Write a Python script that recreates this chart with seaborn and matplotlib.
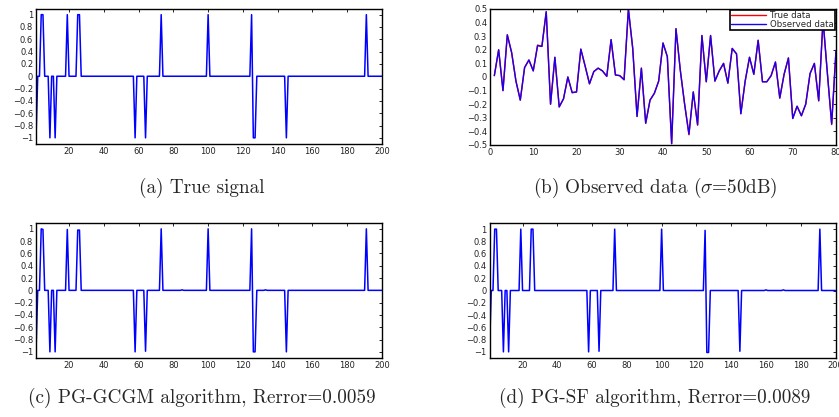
import numpy as np
import pandas as pd
import matplotlib
matplotlib.use("Agg")
import matplotlib.pyplot as plt
import seaborn as sns

# ---------------- data ----------------
n_samples = 200
sample_index = list(range(1, n_samples + 1))

# true sparse signal: spike positions and amplitudes
true_pos = [1, 4, 5, 9, 12, 19, 25, 26, 58, 64, 73, 100, 125, 126, 127, 145, 191]
true_amp = [-1, 1, 1, -1, -1, 1, 1, 1, -1, -1, 1, 1, 1, -1, -1, -1, 1]

# PG-GCGM reconstruction
gcgm_pos = [1, 4, 5, 9, 12, 19, 25, 26, 58, 64, 73, 85, 100, 125, 126, 127, 133, 145, 191]
gcgm_amp = [-1, 1, 0.99, -1, -1, 0.99, 0.98, 0.98, -1, -0.99, 1, 0.008, 1, 1, -1, -1, 0.008, -1, 1]

# PG-SF reconstruction
sf_pos = [1, 4, 5, 9, 12, 19, 25, 26, 58, 64, 73, 100, 125, 126, 127, 145, 160, 170, 191]
sf_amp = [-1, 1, 1, -1, -1, 1, 1, 1, -1, -0.99, 1, 1, 0.98, -1.01, -1.01, -0.99, 0.01, 0.01, 1]

# observed data (80 measurements)
obs_x = list(range(1, 81))
observed_vals = [0.01, 0.20, -0.10, 0.31, 0.18, -0.03, -0.17, 0.07, 0.125, 0.045,
                 0.23, 0.225, 0.48, -0.20, 0.145, -0.22, -0.16, 0.00, -0.115, -0.11,
                 0.205, 0.08, -0.05, 0.04, 0.065, 0.045, 0.005, 0.275, 0.015, 0.01,
                 -0.02, 0.50, 0.21, -0.29, 0.065, -0.34, -0.17, -0.12, -0.03, 0.25,
                 0.15, -0.49, 0.355, 0.05, -0.20, -0.42, -0.11, -0.35, 0.305, -0.035,
                 0.305, -0.03, 0.045, 0.10, -0.045, 0.21, 0.17, -0.27, -0.03, 0.145,
                 0.02, 0.27, -0.035, -0.035, 0.01, 0.11, -0.155, 0.02, 0.14, -0.305,
                 -0.215, -0.285, -0.20, 0.025, 0.10, -0.175, 0.42, 0.03, -0.345, 0.195]
true_data_vals = [0.01, 0.20, -0.10, 0.31, 0.18, -0.03, -0.17, 0.07, 0.125, 0.045,
                  0.235, 0.225, 0.48, -0.20, 0.145, -0.22, -0.16, 0.00, -0.115, -0.11,
                  0.205, 0.08, -0.05, 0.04, 0.065, 0.045, 0.005, 0.275, 0.015, 0.01,
                  -0.02, 0.50, 0.21, -0.29, 0.065, -0.34, -0.17, -0.12, -0.03, 0.25,
                  0.15, -0.49, 0.355, 0.05, -0.20, -0.425, -0.11, -0.355, 0.305, -0.035,
                  0.305, -0.03, 0.045, 0.10, -0.045, 0.21, 0.17, -0.27, -0.03, 0.145,
                  0.02, 0.27, -0.035, -0.035, 0.01, 0.11, -0.155, 0.02, 0.14, -0.305,
                  -0.215, -0.285, -0.20, 0.025, 0.10, -0.175, 0.42, 0.03, -0.35, 0.195]

captions = ["(a) True signal",
            r"(b) Observed data ($\sigma$=50dB)",
            "(c) PG-GCGM algorithm, Rerror=0.0059",
            "(d) PG-SF algorithm, Rerror=0.0089"]

signal_yticks = [-1, -0.8, -0.6, -0.4, -0.2, 0, 0.2, 0.4, 0.6, 0.8, 1]
signal_xticks = [20, 40, 60, 80, 100, 120, 140, 160, 180, 200]
obs_yticks = [-0.5, -0.4, -0.3, -0.2, -0.1, 0, 0.1, 0.2, 0.3, 0.4, 0.5]
obs_xticks = [0, 10, 20, 30, 40, 50, 60, 70, 80]


def build_signal(pos, amp):
    s = np.zeros(n_samples)
    for p, a in zip(pos, amp):
        s[p - 1] = a
    return pd.DataFrame({"index": sample_index, "value": s})


# ---------------- style ----------------
sns.set_style("white")
plt.rcParams["font.family"] = ["DejaVu Sans"]
plt.rcParams["mathtext.fontset"] = "cm"
plt.rcParams["axes.unicode_minus"] = True

fig = plt.figure(figsize=(8.39, 4.17), dpi=100)
W, H = 839, 417


def px_axes(left, top, right, bottom):
    return fig.add_axes([left / W, 1 - bottom / H, (right - left) / W, (bottom - top) / H])


ax_a = px_axes(36, 8.5, 382, 144)
ax_b = px_axes(490, 9, 836, 145)
ax_c = px_axes(36, 222.7, 382, 358)
ax_d = px_axes(489.5, 223, 835.5, 358)


def style_axes(ax, xticks, yticks, xlim, ylim):
    ax.set_xlim(*xlim)
    ax.set_ylim(*ylim)
    ax.set_xticks(xticks)
    ax.set_yticks(yticks)
    ax.set_xticklabels([f"{t:g}" for t in xticks])
    ax.set_yticklabels([f"{t:g}".replace("-", "\u2212") for t in yticks])
    ax.tick_params(direction="in", length=2.5, width=0.6, labelsize=6, pad=2,
                   top=True, right=True, colors="black", labelcolor="#222222")
    for sp in ax.spines.values():
        sp.set_visible(True)
        sp.set_color("black")
        sp.set_linewidth(1.0)
    ax.set_xlabel("")
    ax.set_ylabel("")


for ax, (pos, amp) in zip([ax_a, ax_c, ax_d],
                          [(true_pos, true_amp), (gcgm_pos, gcgm_amp), (sf_pos, sf_amp)]):
    df = build_signal(pos, amp)
    sns.lineplot(data=df, x="index", y="value", ax=ax, color="#0000ff",
                 linewidth=1.1, estimator=None, sort=False)
    style_axes(ax, signal_xticks, signal_yticks, (1, 200), (-1.1, 1.1))

df_obs = pd.DataFrame({"x": obs_x, "true": true_data_vals, "obs": observed_vals})
sns.lineplot(data=df_obs, x="x", y="true", ax=ax_b, color="#ff0000", linewidth=1.0,
             estimator=None, sort=False, label="True data")
sns.lineplot(data=df_obs, x="x", y="obs", ax=ax_b, color="#1a00f0", linewidth=1.0,
             estimator=None, sort=False, label="Observed data")
style_axes(ax_b, obs_xticks, obs_yticks, (0, 80), (-0.5, 0.5))
leg = ax_b.legend(loc="upper right", fontsize=6.2, frameon=True, fancybox=False,
                  edgecolor="black", framealpha=1, borderpad=0.1, labelspacing=0.0,
                  handlelength=4.0, handletextpad=0.5, borderaxespad=0.15)
leg.get_frame().set_linewidth(1.2)

cap_pos = [(202, 188), (655, 188), (202, 398), (655, 398)]
for (cx, cy), txt in zip(cap_pos, captions):
    fig.text(cx / W, 1 - cy / H, txt, ha="center", va="center",
             fontsize=13.8, family="cmr10")

fig.savefig("out.png", dpi=100)
